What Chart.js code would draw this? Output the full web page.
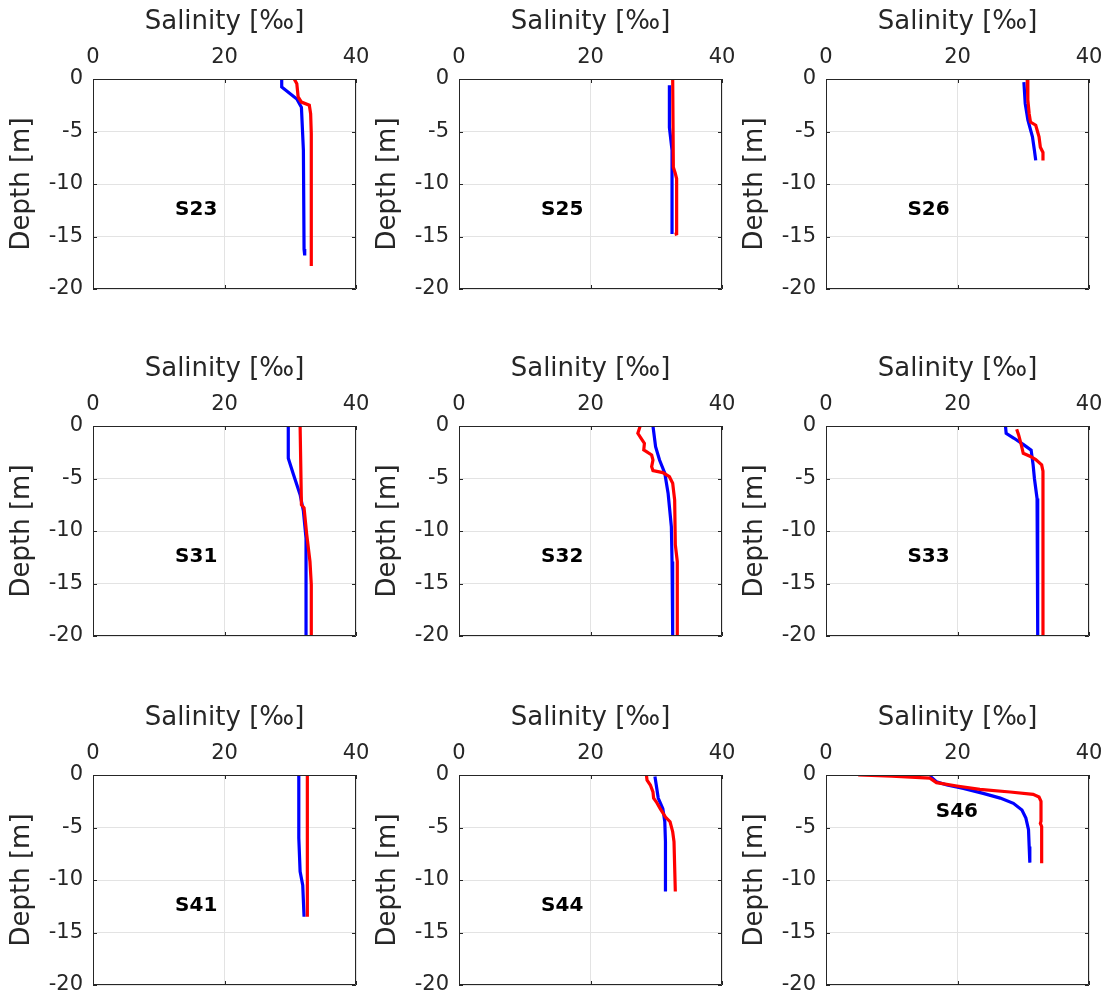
<!DOCTYPE html>
<html>
<head>
<meta charset="utf-8">
<script src="https://cdn.jsdelivr.net/npm/chart.js@4.4.0/dist/chart.umd.min.js"></script>
<style>
  body { margin: 0; background: #ffffff; }
  #grid { position: relative; width: 1113px; height: 1000px; }
  .panel { position: absolute; }
</style>
</head>
<body>
<div id="grid"></div>
<script>
// Salinity profiles, [salinity ‰, depth m] – red and blue casts per station
const stations = ['S23', 'S25', 'S26', 'S31', 'S32', 'S33', 'S41', 'S44', 'S46'];

const s23Red  = [[30.6, 0], [31.0, -0.45], [31.2, -1.7], [31.7, -2.2], [32.9, -2.5], [33.1, -3.3], [33.2, -5.2], [33.2, -17.8]];
const s23Blue = [[28.7, 0], [28.7, -0.76], [31.0, -1.9], [31.7, -2.7], [32.0, -6.8], [32.1, -16.2], [32.2, -16.8]];

const s25Red  = [[32.5, 0], [32.6, -8.4], [32.9, -9.0], [33.1, -9.5], [33.1, -14.75], [32.8, -14.8]];
const s25Blue = [[32.0, -0.6], [32.0, -4.6], [32.4, -6.8], [32.4, -14.75]];

const s26Red  = [[30.6, 0], [30.7, -2.0], [30.9, -3.3], [31.1, -4.1], [31.9, -4.4], [32.4, -5.5], [32.6, -6.5], [33.0, -7.0], [33.0, -7.75]];
const s26Blue = [[30.1, -0.3], [30.3, -2.35], [30.7, -3.9], [31.4, -5.5], [31.7, -6.8], [31.9, -7.75]];

const s31Red  = [[31.5, 0], [31.7, -7.5], [32.1, -7.8], [32.5, -10.3], [33.0, -12.9], [33.2, -15.1], [33.2, -20]];
const s31Blue = [[29.7, 0], [29.7, -3.07], [30.5, -4.65], [31.5, -6.55], [32.0, -8.1], [32.4, -10.7], [32.4, -20]];

const s32Red  = [[27.5, 0], [27.5, -0.12], [27.2, -0.7], [27.7, -1.17], [28.2, -1.65], [28.1, -2.28], [29.3, -2.76], [29.5, -3.24],
                 [29.3, -3.87], [29.5, -4.25], [31.0, -4.44], [32.0, -4.83], [32.5, -5.46], [32.8, -7.05], [32.9, -11.3], [33.2, -12.9], [33.2, -20]];
const s32Blue = [[29.5, 0], [29.9, -1.97], [30.5, -3.24], [31.3, -4.5], [31.8, -6.4], [32.3, -9.6], [32.4, -12.9], [32.5, -13.2], [32.5, -20]];

const s33Red  = [[29.0, -0.3], [29.3, -0.85], [29.7, -1.8], [30.0, -2.6], [31.1, -2.9], [31.9, -3.2], [32.8, -3.7], [33.0, -4.3], [33.0, -20]];
const s33Blue = [[27.3, 0], [27.4, -0.7], [28.6, -1.17], [30.1, -1.8], [31.2, -2.3], [31.5, -3.7], [31.7, -5.0], [32.1, -6.9], [32.2, -8.1], [32.2, -20]];

const s41Red  = [[32.6, 0], [32.6, -13.5]];
const s41Blue = [[31.3, 0], [31.3, -6.0], [31.5, -9.2], [31.9, -10.5], [32.1, -13.5]];

const s44Red  = [[28.5, 0], [28.6, -0.5], [29.1, -0.95], [29.5, -1.6], [29.6, -2.2], [30.0, -2.55], [30.6, -3.2], [31.4, -4.0],
                 [32.1, -4.45], [32.5, -5.4], [32.7, -6.35], [32.9, -11.1]];
const s44Blue = [[29.8, -0.15], [30.0, -0.95], [30.3, -2.2], [31.0, -3.2], [31.3, -4.45], [31.4, -6.35], [31.4, -11.1]];

const s46Red  = [[4.9, 0], [10.0, -0.12], [15.8, -0.3], [16.8, -0.73], [19.9, -1.05], [23.4, -1.37], [28.0, -1.62], [31.5, -1.84],
                 [32.4, -2.1], [32.7, -2.5], [32.7, -4.4], [32.6, -4.6], [32.8, -4.9], [32.8, -8.4]];
const s46Blue = [[15.8, -0.1], [16.8, -0.64], [18.4, -0.95], [20.9, -1.27], [23.9, -1.75], [26.5, -2.2], [28.5, -2.7], [29.8, -3.33],
                 [30.4, -4.1], [30.8, -5.2], [30.9, -6.8], [31.0, -8.35]];

const redProfiles  = [s23Red, s25Red, s26Red, s31Red, s32Red, s33Red, s41Red, s44Red, s46Red];
const blueProfiles = [s23Blue, s25Blue, s26Blue, s31Blue, s32Blue, s33Blue, s41Blue, s44Blue, s46Blue];

// where each station name sits, in data units [salinity, depth]
const labelAnchors = [[15.7, -12.5], [15.7, -12.5], [15.6, -12.5], [15.7, -12.5], [15.7, -12.5], [15.6, -12.5], [15.7, -12.5], [15.7, -12.5], [19.9, -3.5]];

const salinityTicks = [0, 20, 40];
const depthTicks = [0, -5, -10, -15, -20];

const FONT = 'DejaVu Sans';
const colLeft = [0, 366, 733];
const rowTop = [0, 347, 696];

// box round the plot area with small inward ticks (MATLAB look)
const framePlugin = {
  id: 'frame',
  afterDraw(chart) {
    const { ctx, chartArea: a, scales } = chart;
    ctx.save();
    ctx.strokeStyle = '#262626';
    ctx.lineWidth = 1;
    ctx.beginPath();
    ctx.rect(a.left + 0.5, a.top + 0.5, a.right - a.left - 1, a.bottom - a.top - 1);
    scales.x.ticks.forEach(t => {
      const px = Math.round(scales.x.getPixelForValue(t.value)) + 0.5;
      ctx.moveTo(px, a.top); ctx.lineTo(px, a.top + 4);
      ctx.moveTo(px, a.bottom); ctx.lineTo(px, a.bottom - 4);
    });
    scales.y.ticks.forEach(t => {
      const py = Math.round(scales.y.getPixelForValue(t.value)) + 0.5;
      ctx.moveTo(a.left, py); ctx.lineTo(a.left + 4, py);
      ctx.moveTo(a.right, py); ctx.lineTo(a.right - 4, py);
    });
    ctx.stroke();
    ctx.restore();
  }
};

const stationLabelPlugin = {
  id: 'stationLabel',
  afterDatasetsDraw(chart, args, opts) {
    const { ctx, scales } = chart;
    ctx.save();
    ctx.font = 'bold 20px "' + FONT + '"';
    ctx.fillStyle = '#000000';
    ctx.textAlign = 'center';
    ctx.textBaseline = 'middle';
    ctx.fillText(opts.text, scales.x.getPixelForValue(opts.at[0]), scales.y.getPixelForValue(opts.at[1]));
    ctx.restore();
  }
};

const toPoints = rows => rows.map(r => ({ x: r[0], y: r[1] }));

const grid = document.getElementById('grid');

stations.forEach((name, i) => {
  const div = document.createElement('div');
  div.className = 'panel';
  div.style.left = colLeft[i % 3] + 'px';
  div.style.top = rowTop[Math.floor(i / 3)] + 'px';
  const canvas = document.createElement('canvas');
  canvas.width = 370;
  canvas.height = 300;
  div.appendChild(canvas);
  grid.appendChild(div);

  new Chart(canvas, {
    type: 'scatter',
    data: {
      datasets: [
        { data: toPoints(redProfiles[i]), borderColor: '#ff0000', borderWidth: 3.2, showLine: true, pointRadius: 0, tension: 0 },
        { data: toPoints(blueProfiles[i]), borderColor: '#0000ff', borderWidth: 3.2, showLine: true, pointRadius: 0, tension: 0 }
      ]
    },
    options: {
      responsive: false,
      animation: false,
      layout: { padding: { left: 0, top: 0, right: 14, bottom: 11 } },
      plugins: {
        legend: { display: false },
        tooltip: { enabled: false },
        stationLabel: { text: name, at: labelAnchors[i] }
      },
      scales: {
        x: {
          type: 'linear',
          position: 'top',
          min: 0,
          max: 40,
          afterBuildTicks: s => { s.ticks = salinityTicks.map(v => ({ value: v })); },
          afterFit: s => { s.height = 79; s.paddingLeft = 0; s.paddingRight = 0; },
          grid: { color: '#e3e3e3', drawTicks: false },
          border: { display: false },
          ticks: { color: '#262626', padding: 9, maxRotation: 0, font: { family: FONT, size: 21 } },
          title: { display: true, text: 'Salinity [‰]', color: '#262626', padding: { top: 7, bottom: 0 }, font: { family: FONT, size: 26 } }
        },
        y: {
          type: 'linear',
          min: -20,
          max: 0,
          afterBuildTicks: s => { s.ticks = depthTicks.map(v => ({ value: v })); },
          afterFit: s => { s.width = 93; s.paddingTop = 0; s.paddingBottom = 0; },
          grid: { color: '#e3e3e3', drawTicks: false },
          border: { display: false },
          ticks: { color: '#262626', padding: 10, font: { family: FONT, size: 21 } },
          title: { display: true, text: 'Depth [m]', color: '#262626', padding: { top: 7, bottom: 0 }, font: { family: FONT, size: 26 } }
        }
      }
    },
    plugins: [framePlugin, stationLabelPlugin]
  });
});
</script>
</body>
</html>
